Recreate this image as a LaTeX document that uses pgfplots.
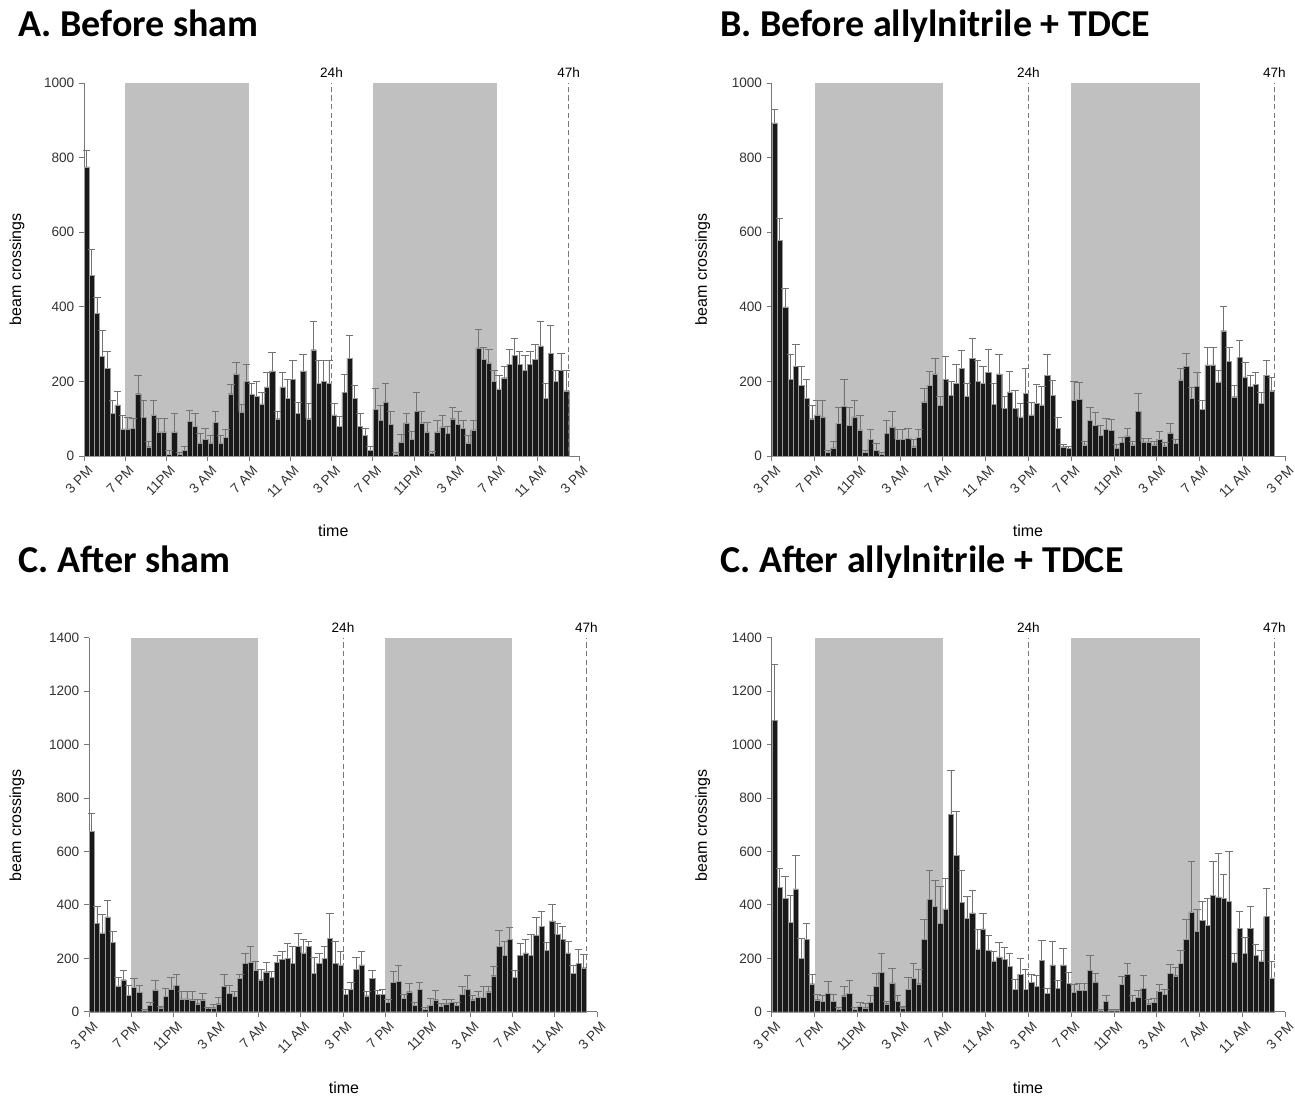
\documentclass[border=0pt]{standalone}
\usepackage{fontspec}
\setmainfont{Liberation Sans}
\newfontfamily\titlefont{Carlito}
\usepackage{pgfplots}
\usepackage{pgfplotstable}
\pgfplotsset{compat=1.18}

\definecolor{shade}{RGB}{192,192,192}
\definecolor{axisgray}{RGB}{120,120,120}
\newcommand\ticks{\fontsize{10.2}{12}\selectfont}
\newcommand\lab{\fontsize{12}{14}\selectfont}
\newcommand\ttl{\titlefont\bfseries\fontsize{28.5}{30}\selectfont}

% y = mean beam crossings per 30 min bin, e = upper error
\pgfplotstableread[row sep=\\]{
y e\\
775 45\\ 485 68\\ 383 42\\ 268 70\\ 235 45\\ 115 35\\ 137 35\\ 73 35\\ 73 30\\ 75 25\\
167 50\\ 103 45\\ 25 15\\ 110 40\\ 65 35\\ 65 35\\ 5 10\\ 65 50\\ 5 5\\ 15 10\\
93 30\\ 80 35\\ 35 25\\ 45 30\\ 35 20\\ 90 30\\ 35 20\\ 50 20\\ 167 25\\ 220 30\\
118 20\\ 200 45\\ 165 30\\ 160 40\\ 140 30\\ 185 40\\ 228 50\\ 100 20\\ 185 40\\ 155 50\\
205 50\\ 115 30\\ 228 45\\ 100 40\\ 285 75\\ 195 60\\ 200 55\\ 195 60\\
110 30\\ 80 25\\ 170 50\\ 262 60\\ 155 35\\ 80 35\\ 55 20\\ 15 10\\ 125 55\\ 95 40\\
145 50\\ 85 35\\ 5 5\\ 38 20\\ 89 25\\ 45 20\\ 120 50\\ 89 30\\ 65 25\\ 8 5\\
65 30\\ 78 30\\ 60 20\\ 100 30\\ 85 35\\ 75 20\\ 35 20\\ 70 25\\ 290 50\\ 260 30\\
250 35\\ 200 30\\ 180 35\\ 210 30\\ 245 40\\ 270 45\\ 245 35\\ 230 40\\ 245 35\\ 260 40\\
295 65\\ 155 40\\ 275 75\\ 200 30\\ 230 45\\ 175 55\\
}\tA

\pgfplotstableread[row sep=\\]{
y e\\
893 37\\ 578 60\\ 400 50\\ 205 67\\ 240 58\\ 190 50\\ 155 50\\ 100 35\\ 110 38\\ 105 43\\
10 5\\ 22 18\\ 88 42\\ 133 72\\ 83 47\\ 105 43\\ 70 40\\ 10 5\\ 45 27\\ 15 20\\
5 5\\ 60 35\\ 78 42\\ 45 25\\ 45 27\\ 48 27\\ 25 20\\ 50 20\\ 145 35\\ 190 38\\
220 42\\ 135 25\\ 205 63\\ 162 38\\ 195 50\\ 235 48\\ 160 35\\ 262 53\\ 200 55\\ 195 45\\
225 60\\ 138 57\\ 220 52\\ 128 32\\ 172 56\\ 128 47\\ 105 35\\ 168 67\\
110 35\\ 141 50\\ 137 50\\ 217 55\\ 163 40\\ 74 30\\ 25 5\\ 20 5\\ 150 50\\ 152 45\\
30 10\\ 96 35\\ 83 35\\ 56 25\\ 71 30\\ 68 30\\ 20 10\\ 36 15\\ 54 20\\ 30 10\\
119 50\\ 38 10\\ 38 10\\ 30 10\\ 45 20\\ 27 10\\ 62 25\\ 34 10\\ 204 30\\ 241 35\\
155 30\\ 186 37\\ 125 25\\ 244 47\\ 244 47\\ 199 30\\ 336 66\\ 254 36\\ 159 30\\ 264 47\\
212 40\\ 186 30\\ 193 30\\ 141 30\\ 217 40\\ 175 35\\
}\tB

\pgfplotstableread[row sep=\\]{
y e\\
675 67\\ 330 63\\ 295 69\\ 355 60\\ 260 40\\ 97 33\\ 120 35\\ 62 38\\ 92 33\\ 72 28\\
5 5\\ 25 10\\ 82 36\\ 15 5\\ 58 30\\ 85 45\\ 98 42\\ 48 30\\ 48 30\\ 45 30\\
30 15\\ 45 25\\ 12 6\\ 15 13\\ 30 25\\ 95 45\\ 70 30\\ 58 17\\ 125 15\\ 180 40\\
185 60\\ 155 35\\ 120 38\\ 150 35\\ 130 20\\ 185 25\\ 195 30\\ 200 55\\ 180 65\\ 245 50\\
220 50\\ 245 20\\ 145 60\\ 180 40\\ 200 45\\ 275 95\\ 180 85\\ 175 50\\
65 20\\ 85 25\\ 160 45\\ 175 52\\ 60 15\\ 125 30\\ 65 15\\ 65 20\\ 35 10\\ 110 40\\
115 57\\ 50 15\\ 75 30\\ 25 10\\ 85 25\\ 10 5\\ 25 25\\ 45 35\\ 20 10\\ 30 15\\
35 10\\ 25 10\\ 65 30\\ 85 50\\ 45 15\\ 55 20\\ 55 40\\ 75 20\\ 135 35\\ 245 60\\
210 55\\ 270 45\\ 130 25\\ 210 45\\ 220 50\\ 210 80\\ 285 70\\ 320 55\\ 230 30\\ 340 60\\
290 40\\ 270 50\\ 220 42\\ 145 30\\ 180 55\\ 165 50\\
}\tC

\pgfplotstableread[row sep=\\]{
y e\\
1090 210\\ 465 70\\ 425 80\\ 335 100\\ 460 125\\ 200 75\\ 270 60\\ 105 35\\ 45 20\\ 40 20\\
70 42\\ 40 25\\ 10 5\\ 60 35\\ 70 48\\ 10 5\\ 20 15\\ 15 15\\ 35 25\\ 95 50\\
148 70\\ 30 10\\ 108 54\\ 40 20\\ 15 5\\ 85 45\\ 125 55\\ 105 55\\ 270 75\\ 420 108\\
395 97\\ 330 140\\ 385 115\\ 740 165\\ 585 165\\ 410 120\\ 350 80\\ 370 85\\ 235 75\\ 310 58\\
230 55\\ 190 35\\ 205 55\\ 195 45\\ 170 48\\ 85 35\\ 140 60\\ 85 75\\
110 30\\ 95 40\\ 193 75\\ 69 20\\ 175 87\\ 87 30\\ 175 62\\ 106 40\\ 72 30\\ 80 25\\
80 25\\ 156 56\\ 112 30\\ 5 5\\ 40 20\\ 5 5\\ 5 5\\ 102 30\\ 140 41\\ 40 20\\
55 25\\ 87 48\\ 30 15\\ 35 15\\ 77 25\\ 65 20\\ 143 35\\ 135 30\\ 181 50\\ 272 75\\
374 187\\ 302 80\\ 343 70\\ 324 100\\ 437 124\\ 430 163\\ 425 90\\ 414 187\\ 187 30\\ 312 62\\
218 60\\ 312 81\\ 212 40\\ 190 40\\ 356 106\\ 127 60\\
}\tD

\pgfplotsset{
  panel/.style={
    scale only axis, anchor=south west,
    xmin=0, xmax=48, ymin=0,
    axis x line*=bottom, axis y line*=left,
    axis line style={draw=axisgray, line width=0.6pt, -},
    tick style={draw=axisgray, line width=0.6pt},
    tick align=outside, major tick length=3.75pt,
    xtick={0,4,...,48},
    xticklabels={3 PM,7 PM,11PM,3 AM,7 AM,11 AM,3 PM,7 PM,11PM,3 AM,7 AM,11 AM,3 PM},
    xticklabel style={rotate=45, anchor=north east, font=\ticks, inner sep=0.5pt, yshift=-3pt, text=black!80},
    yticklabel style={font=\ticks, text=black!80},
    /pgf/number format/assume math mode=true,
    /pgf/number format/1000 sep={},
    clip=false,
  },
  bars/.style={
    ybar, bar width=0.5, bar shift=0pt,
    fill=black!90, draw=black!40, line width=0.25pt,
    error bars/.cd, y dir=plus, y explicit,
    error bar style={black!55, line width=0.5pt},
    error mark=-,
    error mark options={rotate=90, black!55, line width=0.6pt, mark size=2.8pt},
  },
}

\newcommand\panel[1]{%
  \addplot[fill=shade, draw=none, forget plot] coordinates {(4,\ymaxv) (16,\ymaxv)} \closedcycle;
  \addplot[fill=shade, draw=none, forget plot] coordinates {(28,\ymaxv) (40,\ymaxv)} \closedcycle;
  \addplot[axisgray, line width=0.6pt, dash pattern=on 4pt off 2.5pt] coordinates {(24,0) (24,\ymaxv)};
  \addplot[axisgray, line width=0.6pt, dash pattern=on 4pt off 2.5pt] coordinates {(47,0) (47,\ymaxv)};
  \addplot[bars] table[x expr=\coordindex*0.5+0.25, y=y, y error=e] {#1};
  \node[above, font=\ticks, inner sep=2pt, yshift=2pt] at (axis cs:24,\ymaxv) {24h};
  \node[above, font=\ticks, inner sep=2pt, yshift=2pt] at (axis cs:47,\ymaxv) {47h};
}

\begin{document}
\begin{tikzpicture}
\useasboundingbox (0,0) rectangle (971.25pt,-824.25pt);

% A
\def\ymaxv{1000}
\begin{axis}[panel, at={(63pt,-342pt)}, width=371.25pt, height=279.75pt,
  ymax=1000, ytick={0,200,...,1000}]
\panel{\tA}
\end{axis}

% B
\begin{axis}[panel, at={(578.8pt,-342pt)}, width=385pt, height=279.75pt,
  ymax=1000, ytick={0,200,...,1000}]
\panel{\tB}
\end{axis}

% C
\def\ymaxv{1400}
\begin{axis}[panel, at={(66.75pt,-758.8pt)}, width=381pt, height=280.5pt,
  ymax=1400, ytick={0,200,...,1400}]
\panel{\tC}
\end{axis}

% D
\begin{axis}[panel, at={(578.8pt,-758.8pt)}, width=385pt, height=280.5pt,
  ymax=1400, ytick={0,200,...,1400}]
\panel{\tD}
\end{axis}

% titles
\node[anchor=base west, inner sep=0pt] at (13.7pt,-27.5pt) {\ttl A. Before sham};
\node[anchor=base west, inner sep=0pt] at (540pt,-27.5pt) {\ttl B. Before allylnitrile + TDCE};
\node[anchor=base west, inner sep=0pt] at (13.7pt,-429.5pt) {\ttl C. After sham};
\node[anchor=base west, inner sep=0pt] at (540pt,-429.5pt) {\ttl C. After allylnitrile + TDCE};

% axis labels
\node[rotate=90, font=\lab] at (12.75pt,-202pt) {beam crossings};
\node[rotate=90, font=\lab] at (527pt,-202pt) {beam crossings};
\node[rotate=90, font=\lab] at (12.75pt,-619pt) {beam crossings};
\node[rotate=90, font=\lab] at (527pt,-619pt) {beam crossings};
\node[font=\lab] at (250pt,-398pt) {time};
\node[font=\lab] at (771pt,-398pt) {time};
\node[font=\lab] at (258pt,-816pt) {time};
\node[font=\lab] at (771pt,-816pt) {time};
\end{tikzpicture}
\end{document}
